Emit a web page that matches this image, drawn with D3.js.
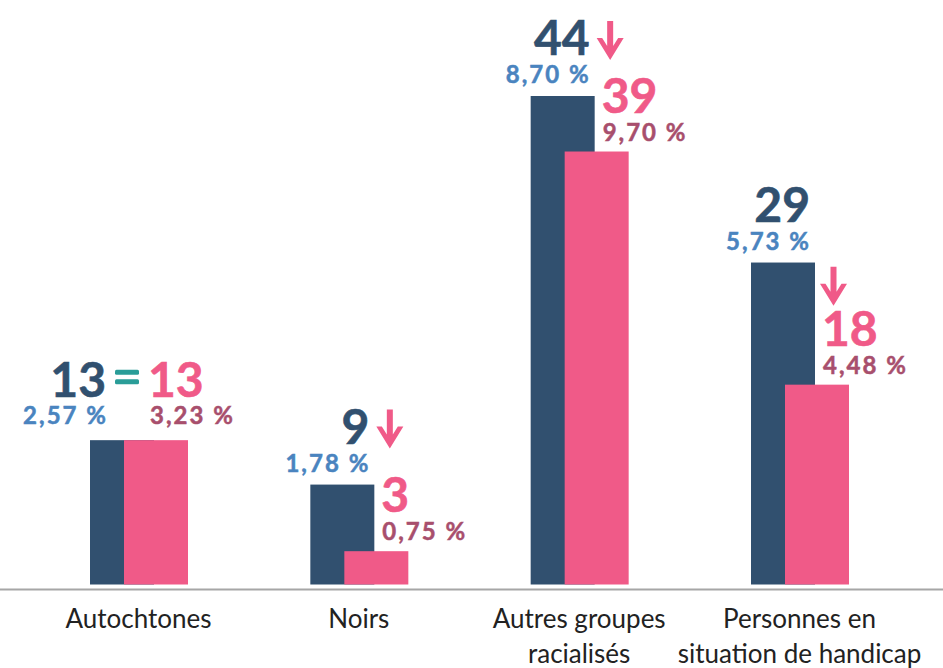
<!DOCTYPE html>
<html><head><meta charset="utf-8">
<script src="https://cdnjs.cloudflare.com/ajax/libs/d3/7.8.5/d3.min.js"></script>
<style>html,body{margin:0;padding:0;background:#fff;} svg{display:block;}</style>
</head><body><svg id="chart" width="943" height="668"></svg>
<script>
// ---- data ----
const categories = ["Autochtones", "Noirs", "Autres groupes racialisés", "Personnes en situation de handicap"];
const labelLines = [["Autochtones"], ["Noirs"], ["Autres groupes", "racialisés"], ["Personnes en", "situation de handicap"]];
const valuesBefore = [13, 9, 44, 29];
const valuesAfter  = [13, 3, 39, 18];
const pctBefore = ["2,57 %", "1,78 %", "8,70 %", "5,73 %"];
const pctAfter  = ["3,23 %", "0,75 %", "9,70 %", "4,48 %"];

// ---- style ----
const W = 943, H = 668;
const C = {dark: "#31506f", pink: "#f05a88", blue: "#4a84bf", mauve: "#a84f6d", teal: "#2a9d98", axis: "#a6a6a6", text: "#222"};
const FONT = "Lato, 'Open Sans', sans-serif";

const svg = d3.select("#chart");
const x = d3.scalePoint().domain(categories).range([138.5, 799.5]);
const y = d3.scaleLinear().domain([0, 44]).range([584.5, 96]);
const barW = 64, offset = 34;

const data = categories.map((c, i) => ({c, i, a: valuesBefore[i], b: valuesAfter[i], pa: pctBefore[i], pb: pctAfter[i]}));

// axis line
svg.append("line").attr("x1", 0).attr("x2", W).attr("y1", 589.5).attr("y2", 589.5)
  .attr("stroke", C.axis).attr("stroke-width", 2);

// bars
const g = svg.append("g");
g.selectAll("rect.a").data(data).join("rect").attr("class", "a")
  .attr("x", d => x(d.c) - 48.5).attr("width", barW)
  .attr("y", d => y(d.a)).attr("height", d => y(0) - y(d.a)).attr("fill", C.dark);
g.selectAll("rect.b").data(data).join("rect").attr("class", "b")
  .attr("x", d => x(d.c) - 48.5 + offset).attr("width", barW)
  .attr("y", d => y(d.b)).attr("height", d => y(0) - y(d.b)).attr("fill", C.pink);

// category labels
const lab = svg.append("g").attr("font-family", FONT).attr("font-size", 26).attr("fill", C.text).attr("text-anchor", "middle");
data.forEach(d => {
  const t = lab.append("text").attr("x", x(d.c)).attr("y", 628);
  labelLines[d.i].forEach((l, k) => t.append("tspan").attr("x", x(d.c)).attr("dy", k ? 35 : 0).text(l));
  const bb = t.node().getBBox();
  const maxX = W - 5 - bb.width / 2;
  if (x(d.c) > maxX) t.selectAll("tspan").attr("x", maxX);
});

// value labels
const numSize = 48, pctSize = 24, pctSpacing = 2;
const arrowPath = "M9.5,0 L15.5,0 L15.5,25 L20.5,17 L26,17 L12.5,39 L-1,17 L4.5,17 L9.5,25 Z";
const ann = svg.append("g").attr("font-family", FONT).attr("font-weight", 700);
function pctText(px, py, anchor, color, txt) {
  ann.append("text").attr("x", px).attr("y", py).attr("text-anchor", anchor).attr("font-size", pctSize)
    .attr("letter-spacing", pctSpacing).attr("fill", color).attr("stroke", color).attr("stroke-width", 0.5).text(txt);
}
function numText(px, py, anchor, color, txt) {
  ann.append("text").attr("x", px).attr("y", py).attr("text-anchor", anchor).attr("font-size", numSize)
    .attr("fill", color).attr("stroke", color).attr("stroke-width", 0.6).text(txt);
}
data.forEach(d => {
  const darkRight = x(d.c) - 48.5 + barW;
  if (d.a === d.b) {
    const eq = x(d.c) - 48.5 + offset + 3;
    const base = y(d.a) - 43, pbase = y(d.a) - 16;
    numText(eq - 21, base, "end", C.dark, d.a);
    numText(eq + 21, base, "start", C.pink, d.b);
    pctText(eq - 19, pbase, "end", C.blue, d.pa);
    pctText(eq + 23, pbase, "start", C.mauve, d.pb);
    ann.append("rect").attr("x", eq - 12).attr("y", base - 27.5).attr("width", 24).attr("height", 5).attr("rx", 1.5).attr("fill", C.teal);
    ann.append("rect").attr("x", eq - 12).attr("y", base - 18).attr("width", 24).attr("height", 5).attr("rx", 1.5).attr("fill", C.teal);
  } else {
    const aBase = y(d.a) - 41, aPBase = y(d.a) - 13;
    const bBase = y(d.b) - 39, bPBase = y(d.b) - 11;
    numText(darkRight - 5, aBase, "end", C.dark, d.a);
    pctText(darkRight - 4, aPBase, "end", C.blue, d.pa);
    numText(darkRight + 7, bBase, "start", C.pink, d.b);
    pctText(darkRight + 8, bPBase, "start", C.mauve, d.pb);
    // arrow: beside the first number, or above the second number if there is room
    const aTop = aBase - 34, bTop = bBase - 34;
    const above = (bTop - aBase > 60);
    const arrowTop = above ? bTop - 45 : aTop;
    const ax = above ? darkRight + 6 : darkRight + 3;
    ann.append("path").attr("d", arrowPath).attr("transform", `translate(${ax},${arrowTop})`).attr("fill", C.pink);
  }
});
</script></body></html>
